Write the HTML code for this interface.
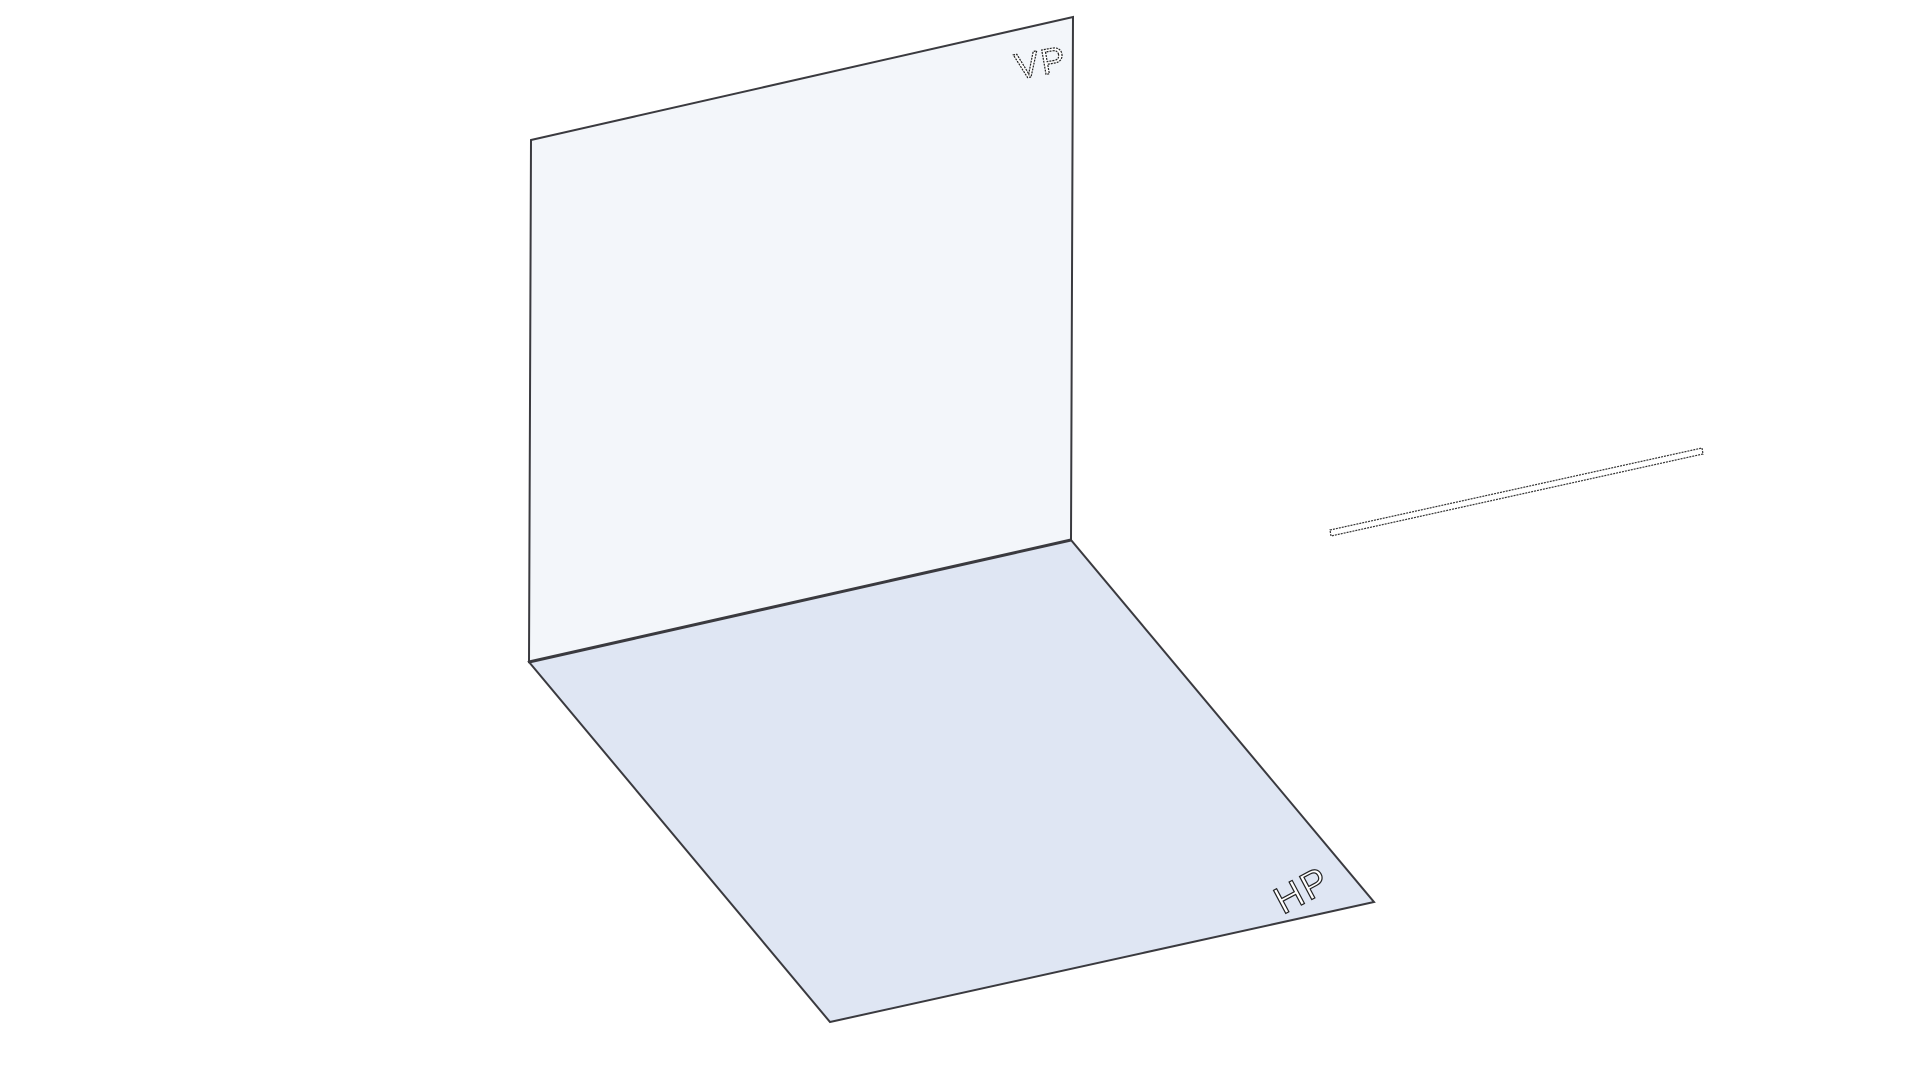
<!DOCTYPE html>
<html><head><meta charset="utf-8"><style>html,body{margin:0;padding:0;background:#fff;width:1920px;height:1080px;overflow:hidden}</style></head>
<body>
<svg width="1920" height="1080" viewBox="0 0 1920 1080">
<polygon points="531,140 1073,17 1071,540 529,662" fill="#f3f6fa" stroke="#3a3a3f" stroke-width="2"/>
<polygon points="529,662 1071,540 1374,902 830,1022" fill="#dfe6f3" stroke="#3a3a3f" stroke-width="2"/>
<line x1="529" y1="662" x2="1071" y2="540" stroke="#3a3a3f" stroke-width="3"/>
<text x="1041" y="75" font-family="Liberation Sans, sans-serif" font-size="36" letter-spacing="2" fill="#fff" stroke="#222" stroke-width="1.2" stroke-dasharray="2,1" text-anchor="middle" transform="rotate(-10 1041 63)">VP</text>
<text x="1302" y="903" font-family="Liberation Sans, sans-serif" font-size="38" letter-spacing="2" fill="#fff" stroke="#222" stroke-width="1.2" text-anchor="middle" transform="rotate(-28 1302 890)">HP</text>
<polygon points="1330,530 1702,448 1703,454 1331,536" fill="#fff" stroke="#333" stroke-width="1.2" stroke-dasharray="2,1"/>
</svg>
</body></html>
